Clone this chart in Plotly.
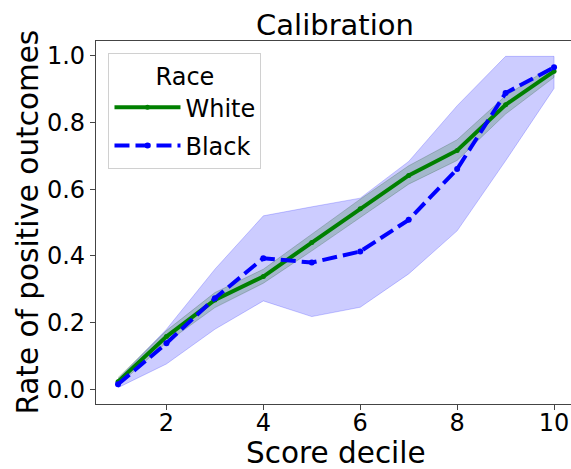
import plotly.graph_objects as go

deciles = [1, 2, 3, 4, 5, 6, 7, 8, 9, 10]

white_rate = [0.023, 0.158, 0.268, 0.338, 0.44, 0.541, 0.641, 0.716, 0.853, 0.953]
white_low = [0.012, 0.140, 0.245, 0.318, 0.415, 0.515, 0.615, 0.686, 0.825, 0.935]
white_high = [0.035, 0.176, 0.290, 0.360, 0.465, 0.570, 0.670, 0.748, 0.880, 0.972]

black_rate = [0.015, 0.138, 0.273, 0.393, 0.380, 0.413, 0.508, 0.660, 0.888, 0.965]
black_low = [0.005, 0.076, 0.180, 0.265, 0.218, 0.246, 0.346, 0.475, 0.685, 0.902]
black_high = [0.030, 0.180, 0.360, 0.520, 0.547, 0.573, 0.683, 0.850, 0.998, 0.998]

x_ticks = [2, 4, 6, 8, 10]
y_ticks = [0.0, 0.2, 0.4, 0.6, 0.8, 1.0]

FONT = "DejaVu Sans"
W, H = 571, 469
L, R, T, B = 95.5, 0, 41, 65

fig = go.Figure()

def band(x, lo, hi, fill, edge):
    return go.Scatter(
        x=list(x) + list(x)[::-1],
        y=list(hi) + list(lo)[::-1],
        fill="toself", fillcolor=fill,
        line=dict(color=edge, width=1),
        mode="lines", hoverinfo="skip", showlegend=False,
    )

fig.add_trace(band(deciles, black_low, black_high, "rgba(0,0,255,0.2)", "rgba(0,0,255,0.2)"))
fig.add_trace(band(deciles, white_low, white_high, "rgba(0,100,0,0.2)", "rgba(0,60,0,0.2)"))

fig.add_trace(go.Scatter(
    x=deciles, y=white_rate, name="White", mode="lines+markers",
    line=dict(color="green", width=4),
    marker=dict(size=5, color="green"),
    legendgroup="w",
))
fig.add_trace(go.Scatter(
    x=deciles, y=black_rate, name="Black", mode="lines+markers",
    line=dict(color="blue", width=4, dash="15px,6px"),
    marker=dict(size=6, color="blue"),
    legendgroup="b",
))

plot_w = W - L - R
plot_h = H - T - B

fig.update_layout(
    width=W, height=H,
    margin=dict(l=L, r=R, t=T, b=B, autoexpand=False),
    paper_bgcolor="white", plot_bgcolor="white",
    font=dict(family=FONT, color="black", size=24),
    title=dict(text="Calibration", x=335 / W, xanchor="center",
               y=1 - 25 / H, yanchor="middle",
               font=dict(family=FONT, size=29, color="black")),
    legend=dict(
        x=(108 - L) / plot_w, y=(H - B - 53) / plot_h, xanchor="left", yanchor="top",
        bordercolor="#d0d0d0", borderwidth=1, bgcolor="rgba(255,255,255,0.8)",
        font=dict(family=FONT, size=24, color="black"),
        title=dict(text="Race", side="top center", font=dict(family=FONT, size=24)),
        tracegroupgap=4, itemwidth=66,
    ),
    showlegend=True,
    annotations=[
        dict(text="Score decile", xref="paper", yref="paper",
             x=(336 - L) / plot_w, y=-(453 - (H - B)) / plot_h,
             xanchor="center", yanchor="middle", showarrow=False,
             font=dict(family=FONT, size=29.5, color="black")),
        dict(text="Rate of positive outcomes", xref="paper", yref="paper",
             x=-(L - 27) / plot_w, y=((H - B) - 222) / plot_h, textangle=-90,
             xanchor="center", yanchor="middle", showarrow=False,
             font=dict(family=FONT, size=29.5, color="black")),
    ],
)

fig.update_xaxes(
    range=[0.546, 10.35], tickvals=x_ticks, ticktext=[str(v) for v in x_ticks],
    showgrid=False, zeroline=False, showline=True, linecolor="#444", linewidth=1.2,
    mirror=True, ticks="outside", ticklen=5, tickcolor="#444",
    tickfont=dict(family=FONT, size=24), automargin=False, ticklabelstandoff=-8,
)
fig.update_yaxes(
    range=[-0.044, 1.044], tickvals=y_ticks, ticktext=[f"{v:.1f}" for v in y_ticks],
    showgrid=False, zeroline=False, showline=True, linecolor="#444", linewidth=1.2,
    mirror=False, ticks="outside", ticklen=5, tickcolor="#444",
    tickfont=dict(family=FONT, size=24), automargin=False,
)

fig.write_html("out.html", config={"displayModeBar": False},
               post_script="document.body.style.margin='0';document.body.style.overflow='hidden';")
